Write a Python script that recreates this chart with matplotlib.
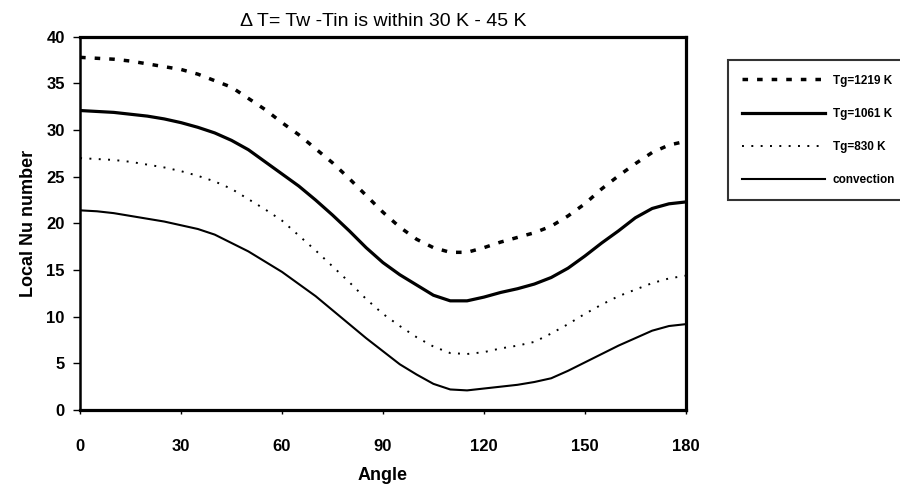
import matplotlib
matplotlib.use("Agg")
import matplotlib.pyplot as plt

plt.rcParams["font.family"] = ["Liberation Sans", "DejaVu Sans"]

# Angle (deg) and local Nu
angle = [0, 5, 10, 15, 20, 25, 30, 35, 40, 45, 50, 55, 60, 65, 70, 75, 80, 85,
         90, 95, 100, 105, 110, 115, 120, 125, 130, 135, 140, 145, 150, 155,
         160, 165, 170, 175, 180]
nu_1219 = [37.8, 37.7, 37.6, 37.4, 37.1, 36.8, 36.5, 36.0, 35.3, 34.6, 33.4,
           32.2, 30.8, 29.5, 28.0, 26.5, 24.8, 23.0, 21.2, 19.6, 18.3, 17.4,
           16.9, 16.9, 17.4, 18.0, 18.5, 19.0, 19.7, 20.8, 22.1, 23.7, 25.1,
           26.4, 27.6, 28.4, 28.8]
nu_1061 = [32.1, 32.0, 31.9, 31.7, 31.5, 31.2, 30.8, 30.3, 29.7, 28.9, 27.9,
           26.6, 25.3, 24.0, 22.5, 20.9, 19.2, 17.4, 15.8, 14.5, 13.4, 12.3,
           11.7, 11.7, 12.1, 12.6, 13.0, 13.5, 14.2, 15.2, 16.5, 17.9, 19.2,
           20.6, 21.6, 22.1, 22.3]
nu_830 = [27.0, 26.9, 26.8, 26.6, 26.3, 26.0, 25.6, 25.1, 24.5, 23.7, 22.6,
          21.5, 20.3, 18.7, 17.1, 15.4, 13.7, 11.9, 10.3, 9.0, 7.8, 6.8, 6.1,
          6.0, 6.2, 6.6, 6.9, 7.3, 8.2, 9.2, 10.3, 11.3, 12.2, 12.9, 13.6,
          14.1, 14.4]
nu_conv = [21.4, 21.3, 21.1, 20.8, 20.5, 20.2, 19.8, 19.4, 18.8, 17.9, 17.0,
           15.9, 14.8, 13.5, 12.2, 10.7, 9.2, 7.7, 6.3, 4.9, 3.8, 2.8, 2.2,
           2.1, 2.3, 2.5, 2.7, 3.0, 3.4, 4.2, 5.1, 6.0, 6.9, 7.7, 8.5, 9.0,
           9.2]

labels = ["Tg=1219 K", "Tg=1061 K", "Tg=830 K", "convection"]
xticks = [0, 30, 60, 90, 120, 150, 180]
yticks = [0, 5, 10, 15, 20, 25, 30, 35, 40]

fig = plt.figure(figsize=(9, 4.91), dpi=100)
ax = fig.add_axes([0.089, 0.165, 0.673, 0.76])

ax.plot(angle, nu_1219, color="black", lw=2.5, linestyle=(0, (1.6, 2.6)), label=labels[0])
ax.plot(angle, nu_1061, color="black", lw=2.3, label=labels[1])
ax.plot(angle, nu_830, color="black", lw=1.4, linestyle=(0, (1, 3.8)), label=labels[2])
ax.plot(angle, nu_conv, color="black", lw=1.5, label=labels[3])

ax.set_xlim(0, 180)
ax.set_ylim(0, 40)
ax.set_xticks(xticks)
ax.set_yticks(yticks)
ax.tick_params(axis="x", length=3, width=1, pad=18, labelsize=12)
ax.tick_params(axis="y", length=5, width=1, pad=6, labelsize=12)
for lab in ax.get_xticklabels() + ax.get_yticklabels():
    lab.set_fontweight("bold")

for side in ["top", "bottom", "right"]:
    ax.spines[side].set_linewidth(2.3)
ax.spines["left"].set_linewidth(1.8)

ax.set_xlabel("Angle", fontsize=13, fontweight="bold", labelpad=9)
ax.set_ylabel("Local Nu number", fontsize=13, fontweight="bold", labelpad=7)
ax.set_title("\u0394 T= Tw -Tin is within 30 K - 45 K", fontsize=14, pad=8)

leg = fig.legend(loc="upper left", bbox_to_anchor=(0.802, 0.889),
                 prop={"weight": "bold", "size": 8.5}, handlelength=7.0,
                 handletextpad=0.7, labelspacing=1.8, borderpad=1.2,
                 fancybox=False, frameon=True, edgecolor="black")
leg.get_frame().set_linewidth(1.5)

fig.savefig("out.png", dpi=100)
